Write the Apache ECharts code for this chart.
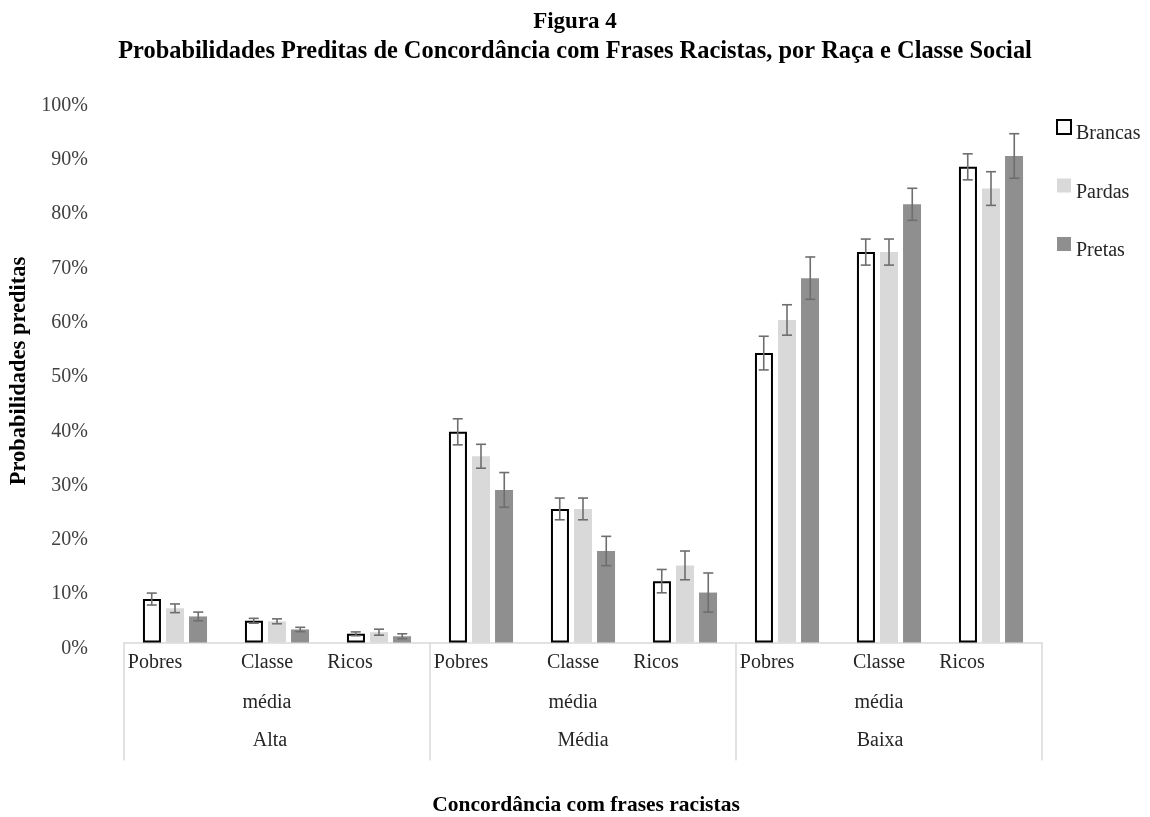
<!DOCTYPE html>
<html>
<head>
<meta charset="utf-8">
<script src="https://cdn.jsdelivr.net/npm/echarts@6/dist/echarts.min.js"></script>
<style>html,body{margin:0;padding:0;background:#fff}#c{width:1150px;height:817px}</style>
</head>
<body>
<div id="c"></div>
<script>
const categories = ['Pobres','Classe média','Ricos','Pobres','Classe média','Ricos','Pobres','Classe média','Ricos'];
const groups = ['Alta','Média','Baixa'];
const seriesNames = ['Brancas','Pardas','Pretas'];
const brancas    = [8.0, 4.0, 1.6, 38.8, 24.6, 11.3, 53.3, 71.9, 87.6];
const brancasErr = [1.1, 0.45, 0.35, 2.4, 2.0, 2.15, 3.1, 2.4, 2.4];
const pardas     = [6.3, 3.9, 1.9, 34.3, 24.6, 14.2, 59.4, 71.9, 83.6];
const pardasErr  = [0.8, 0.45, 0.55, 2.2, 2.0, 2.65, 2.8, 2.4, 3.1];
const pretas     = [4.8, 2.4, 1.15, 28.1, 16.85, 9.2, 67.1, 80.7, 89.6];
const pretasErr  = [0.8, 0.4, 0.45, 3.2, 2.7, 3.6, 3.9, 2.95, 4.1];
const yTicks = [0,10,20,30,40,50,60,70,80,90,100];

const FONT = '"Liberation Serif", "DejaVu Serif", serif';
const values = [brancas, pardas, pretas];
const errs = [brancasErr, pardasErr, pretasErr];
const styles = [
  {color:'#ffffff', borderColor:'#000000', borderWidth:2},
  {color:'#d9d9d9'},
  {color:'#8f8f8f'}
];

function errSeries(k){
  return {
    type:'custom', name:seriesNames[k]+' err', xAxisIndex:0, yAxisIndex:0, z:5,
    data: values[k].map((v,i)=>[i, v, errs[k][i]]),
    renderItem(params, api){
      const ci = api.value(0), v = api.value(1), e = api.value(2);
      const slot = api.size([1,0])[0];
      const dx = (k-1)*slot*0.228;
      const t = api.coord([ci, v+e]); const b = api.coord([ci, v-e]);
      const x = t[0]+dx;
      const st = {stroke:'#6e6e6e', lineWidth:1.6};
      return {type:'group', children:[
        {type:'line', shape:{x1:x,y1:t[1],x2:x,y2:b[1]}, style:st},
        {type:'line', shape:{x1:x-5,y1:t[1],x2:x+5,y2:t[1]}, style:st},
        {type:'line', shape:{x1:x-5,y1:b[1],x2:x+5,y2:b[1]}, style:st}
      ]};
    }
  };
}

const labelRich = {
  p:{fontFamily:FONT,fontSize:20,color:'#262626',lineHeight:40,padding:[0,40,0,0]},
  c:{fontFamily:FONT,fontSize:20,color:'#262626',lineHeight:40,padding:[0,20,0,0]},
  r:{fontFamily:FONT,fontSize:20,color:'#262626',lineHeight:40,padding:[0,58,0,0]}
};
const groupRich = {
  g0:{fontFamily:FONT,fontSize:20,color:'#262626',padding:[0,14,0,0]},
  g1:{fontFamily:FONT,fontSize:20,color:'#262626'},
  g2:{fontFamily:FONT,fontSize:20,color:'#262626',padding:[0,18,0,0]}
};

const chart = echarts.init(document.getElementById('c'));
chart.setOption({
  animation:false,
  backgroundColor:'#fff',
  title:[
    {text:'{a|Figura 4}\n{b|Probabilidades Preditas de Concordância com Frases Racistas, por Raça e Classe Social}',
     left:'center', top:2,
     textStyle:{rich:{
       a:{fontFamily:FONT,fontSize:23,fontWeight:'bold',color:'#000',lineHeight:30},
       b:{fontFamily:FONT,fontSize:24.4,fontWeight:'bold',color:'#000',lineHeight:30}
     }}},
    {text:'Concordância com frases racistas', left:581, textAlign:'center', top:789,
     textStyle:{fontFamily:FONT,fontSize:21.5,fontWeight:'bold',color:'#000'}}
  ],
  legend:{
    data:seriesNames, orient:'vertical', left:1051, top:114,
    icon:'rect', itemWidth:14, itemHeight:14, itemGap:34.5,
    formatter:(n)=>'{t|'+n+'}',
    textStyle:{rich:{t:{fontFamily:FONT,fontSize:20,color:'#262626',padding:[14,0,0,0]}}}
  },
  grid:{left:124, right:108, top:99.5, bottom:174.5, containLabel:false, outerBoundsMode:'none'},
  xAxis:[
    {type:'category', data:categories, position:'bottom',
     axisLine:{show:true, lineStyle:{color:'#d9d9d9', width:1.5}},
     axisTick:{show:false},
     axisLabel:{interval:0, margin:0, formatter:(v)=>{
       const key = v==='Pobres'?'p':(v==='Ricos'?'r':'c');
       return '{'+key+'|'+v.replace(' ','\n')+'}';
     }, rich:labelRich}},
    {type:'category', data:groups, position:'bottom', offset:0,
     axisLine:{show:false},
     axisTick:{show:true, length:118, interval:0, lineStyle:{color:'#d9d9d9', width:1.5}},
     axisLabel:{interval:0, margin:88, formatter:(v,i)=>'{g'+i+'|'+v+'}', rich:groupRich}}
  ],
  yAxis:{type:'value', min:0, max:100, interval:10,
    name:'Probabilidades preditas', nameLocation:'middle', nameGap:93, nameRotate:90,
    nameTextStyle:{fontFamily:FONT,fontSize:22.5,fontWeight:'bold',color:'#000'},
    axisLine:{show:false}, axisTick:{show:false}, splitLine:{show:false},
    axisLabel:{margin:36, fontFamily:FONT, fontSize:20, color:'#404040',
      verticalAlign:'top', lineHeight:12,
      formatter:(v)=> yTicks.includes(v) ? v+'%' : ''}
  },
  series:[
    ...seriesNames.map((n,k)=>({
      type:'bar', name:n, data:values[k], xAxisIndex:0, yAxisIndex:0,
      barWidth:18, barGap:'28%', itemStyle:styles[k]
    })),
    errSeries(0), errSeries(1), errSeries(2)
  ]
});
</script>
</body>
</html>
